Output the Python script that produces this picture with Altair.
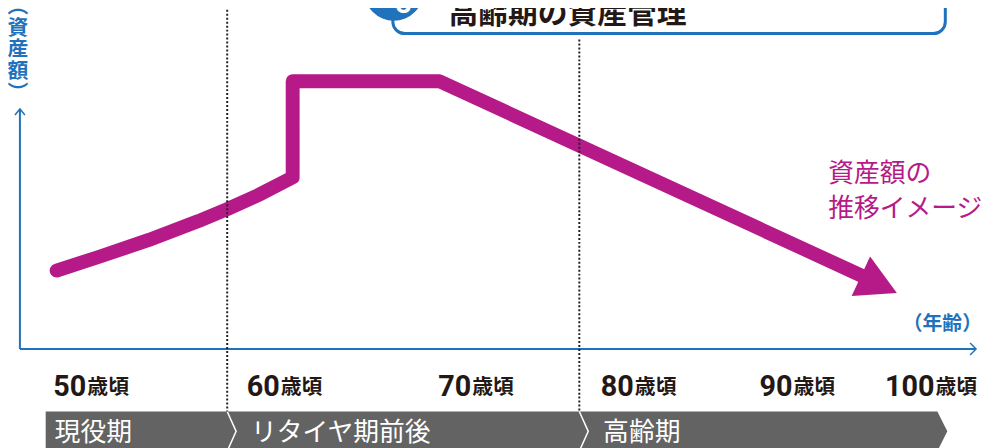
import altair as alt
import pandas as pd

# ---- data (x = timeline position, y = height above page bottom) ----
line_x = [49, 92, 142, 192, 221, 252, 287, 287, 435, 867]
line_y = [177, 191, 208, 227, 239, 253, 271, 368, 368, 169]
arrow_x = [878]
arrow_y = [163]

age_num = ["50", "60", "70", "80", "90", "100"]
age_suffix = ["歳頃"] * 6
age_pos = [79, 274, 467, 631, 791, 934]
age_y = [51] * 6

phase_labels = ["現役期", "リタイヤ期前後", "高齢期"]
phase_pos = [47, 245, 600]
phase_y = [13, 13, 13]

band_x = [38, 937, 947]
band_top = [35, 35, 15]
band_bot = [-5, -5, 15]

sep_x = [221, 230, 221, 576, 585, 576]
sep_y = [35, 15, -5, 35, 15, -5]
sep_g = [0, 0, 0, 1, 1, 1]

dot_x = [221, 221, 576, 576]
dot_y = [440, 35, 410, 35]
dot_g = [0, 0, 1, 1]

yaxis_x = [12, 12]
yaxis_y = [98, 340]
xaxis_x = [12, 976]
xaxis_y = [98, 98]
arrowheads_x = [7, 12, 17, 970, 976, 970]
arrowheads_y = [334, 340, 334, 104, 98, 92]
arrowheads_g = [0, 0, 0, 1, 1, 1]

note_lines = ["資産額の", "推移イメージ"]
note_x = [827, 827]
note_y = [274, 239]

header_title = "高齢期の資産管理"
header_num = "3"

MAG = "#b51a88"
BLUE = "#1f72bb"
DARK = "#231815"
GRAY = "#636363"

xs = alt.Scale(domain=[0, 983], nice=False, zero=False)
ys = alt.Scale(domain=[0, 440], nice=False, zero=False)
X = lambda f="x": alt.X(f"{f}:Q", scale=xs, axis=None)
Y = lambda f="y": alt.Y(f"{f}:Q", scale=ys, axis=None)

# band
band = alt.Chart(pd.DataFrame({"x": band_x, "y": band_top, "y2": band_bot})).mark_area(
    color=GRAY, opacity=1
).encode(x=X(), y=Y(), y2="y2:Q")

seps = alt.Chart(pd.DataFrame({"x": sep_x, "y": sep_y, "g": sep_g, "i": range(6)})).mark_line(
    color="white", strokeWidth=1.5
).encode(x=X(), y=Y(), detail="g:N", order="i:Q")

phase_text = alt.Chart(pd.DataFrame({"x": phase_pos, "y": phase_y, "t": phase_labels})).mark_text(
    align="left", baseline="middle", font="Noto Sans CJK JP", fontSize=26, color="white"
).encode(x=X(), y=Y(), text="t:N")

# age labels
ages_df = pd.DataFrame({"x": age_pos, "y": age_y, "n": age_num, "s": age_suffix})
age_nums = alt.Chart(ages_df).mark_text(
    align="right", baseline="alphabetic", font="Roboto", fontSize=29, fontWeight="bold", color=DARK
).encode(x=X(), y=Y(), text="n:N")
age_suf = alt.Chart(ages_df).mark_text(
    align="left", baseline="alphabetic", font="Noto Sans CJK JP", fontSize=21, fontWeight="bold",
    color=DARK, dx=1, dy=-2
).encode(x=X(), y=Y(), text="s:N")

# axes
yaxis = alt.Chart(pd.DataFrame({"x": yaxis_x, "y": yaxis_y})).mark_line(color=BLUE, strokeWidth=2).encode(x=X(), y=Y())
xaxis = alt.Chart(pd.DataFrame({"x": xaxis_x, "y": xaxis_y})).mark_line(color=BLUE, strokeWidth=2).encode(x=X(), y=Y())
heads = alt.Chart(pd.DataFrame({"x": arrowheads_x, "y": arrowheads_y, "g": arrowheads_g, "i": range(6)})).mark_line(
    color=BLUE, strokeWidth=1.5
).encode(x=X(), y=Y(), detail="g:N", order="i:Q")

ylab = alt.Chart(pd.DataFrame({"x": [10], "y": [443], "t": ["︵\n資\n産\n額\n︶"]})).mark_text(
    align="center", baseline="middle", font="Noto Sans CJK JP", fontSize=21, fontWeight="bold",
    color=BLUE, lineBreak="\n", lineHeight=22
).encode(x=X(), y=Y(), text="t:N")

xlab = alt.Chart(pd.DataFrame({"x": [982], "y": [123], "t": ["（年齢）"]})).mark_text(
    align="right", baseline="middle", font="Noto Sans CJK JP", fontSize=20, fontWeight="bold", color=BLUE
).encode(x=X(), y=Y(), text="t:N")

# asset line
asset = alt.Chart(pd.DataFrame({"x": line_x, "y": line_y, "i": range(len(line_x))})).mark_line(
    color=MAG, strokeWidth=14, strokeCap="round", strokeJoin="round"
).encode(x=X(), y=Y(), order="i:Q")

ahead = alt.Chart(pd.DataFrame({"x": arrow_x, "y": arrow_y})).mark_point(
    shape="M 1 0 L -1 -1.1 L -1 1.1 Z", filled=True, size=1600, angle=25, color=MAG, opacity=1, strokeWidth=0
).encode(x=X(), y=Y())

note = alt.Chart(pd.DataFrame({"x": note_x, "y": note_y, "t": note_lines})).mark_text(
    align="left", baseline="middle", font="Noto Sans CJK JP", fontSize=26, color=MAG
).encode(x=X(), y=Y(), text="t:N")

# dotted lines
dots = alt.Chart(pd.DataFrame({"x": dot_x, "y": dot_y, "g": dot_g})).mark_line(
    color="#222222", strokeWidth=2, strokeDash=[2, 2]
).encode(x=X(), y=Y(), detail="g:N")

# header box
hbox = alt.Chart(pd.DataFrame({"x": [388], "x2": [945], "y": [416], "y2": [470]})).mark_rect(
    fill="white", stroke=BLUE, strokeWidth=3, cornerRadius=12
).encode(x=X(), x2="x2:Q", y=Y(), y2="y2:Q")

hcirc = alt.Chart(pd.DataFrame({"x": [389], "y": [459]})).mark_point(
    shape="circle", filled=True, size=3600, color=BLUE, opacity=1, strokeWidth=0
).encode(x=X(), y=Y())

hnum = alt.Chart(pd.DataFrame({"x": [399], "y": [445], "t": [header_num]})).mark_text(
    align="center", baseline="middle", font="Roboto", fontSize=28, fontWeight="bold", color="white"
).encode(x=X(), y=Y(), text="t:N")

htitle = alt.Chart(pd.DataFrame({"x": [444], "y": [427], "t": [header_title]})).mark_text(
    align="left", baseline="alphabetic", font="Noto Sans CJK JP", fontSize=30, fontWeight="bold", color=DARK
).encode(x=X(), y=Y(), text="t:N")

chart = alt.layer(
    band, seps, phase_text, age_nums, age_suf,
    yaxis, xaxis, heads, ylab, xlab,
    asset, ahead, note, dots,
    hbox, hcirc, hnum, htitle,
).properties(
    width=983, height=440, padding=0,
    autosize=alt.AutoSizeParams(type="none"),
).configure_view(stroke=None)

chart.save("out.html", embed_options={"renderer": "svg", "actions": False})
